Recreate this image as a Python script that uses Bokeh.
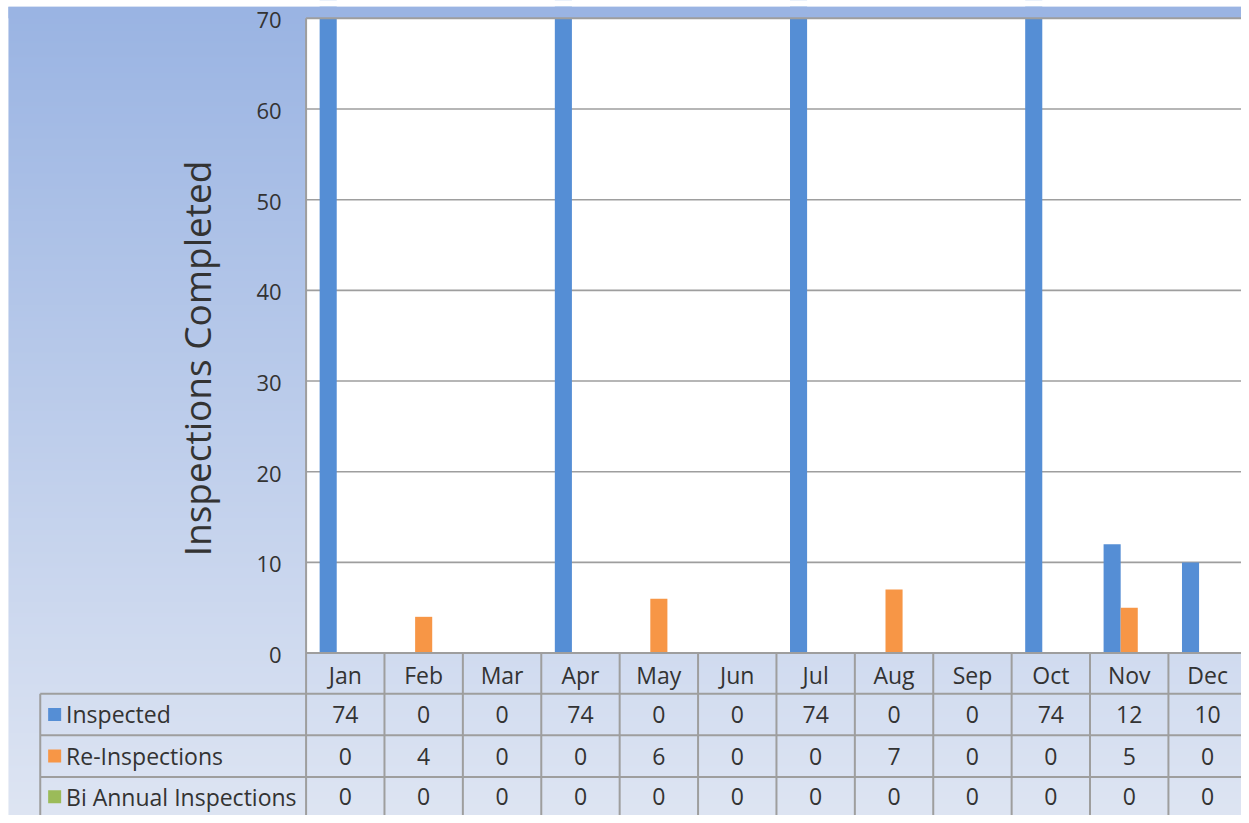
import numpy as np
from bokeh.plotting import figure
from bokeh.models import Range1d, ColumnDataSource
from bokeh.embed import file_html
from bokeh.resources import INLINE
from bokeh.core.properties import value
from bokeh.transform import dodge

# ---------------- data ----------------
months = ["Jan", "Feb", "Mar", "Apr", "May", "Jun", "Jul", "Aug", "Sep", "Oct", "Nov", "Dec"]
inspected = [74, 0, 0, 74, 0, 0, 74, 0, 0, 74, 12, 10]
re_inspections = [0, 4, 0, 0, 6, 0, 0, 7, 0, 0, 5, 0]
bi_annual = [0, 0, 0, 0, 0, 0, 0, 0, 0, 0, 0, 0]
series_names = ["Inspected", "Re-Inspections", "Bi Annual Inspections"]
y_ticks = [0, 10, 20, 30, 40, 50, 60, 70]
y_title = "Inspections Completed"

# ---------------- styles ----------------
colors = ["#558ED5", "#F79646", "#9BBB59"]
grid_color = "#9e9e9e"
text_color = "#333333"
FONT = value("Open Sans")

W, H = 1241, 815          # canvas size
RW, RH = 1249, 823        # layout reference size (mapped onto the canvas)
# layout geometry (layout pixels -> data units)
X0, DX = 347.0, 78.9    # x of first month centre, px per month
Y0, DY = 659.0, 9.157   # y of value 0, px per unit


def dx(px):
    return (px - X0) / DX


def dy(py):
    return (Y0 - py) / DY


x_lo, x_hi = dx(0), dx(RW)
y_lo, y_hi = dy(RH), dy(0)
y_max = y_ticks[-1]

p = figure(width=W, height=H, x_range=Range1d(x_lo, x_hi), y_range=Range1d(y_lo, y_hi),
           output_backend="svg", toolbar_location=None, min_border=0,
           x_axis_location=None, y_axis_location=None)
p.grid.visible = False
p.outline_line_color = None
top_rgb = np.array([154, 180, 227])
bot_rgb = np.array([222, 229, 243])
p.background_fill_color = "white"
p.border_fill_color = "white"

# background gradient (below the thin white strip at top, right of the one at left)
g_top = dy(6)
g_left = dx(8)
n = H
t = np.linspace(0.0, 1.0, n)[:, None]
cols = bot_rgb * (1 - t) + top_rgb * t
img = np.empty((n, 1), dtype=np.uint32)
view = img.view(dtype=np.uint8).reshape((n, 1, 4))
view[:, 0, 0:3] = cols.astype(np.uint8)
view[:, 0, 3] = 255
p.image_rgba(image=[img], x=g_left, y=y_lo, dw=x_hi - g_left, dh=g_top - y_lo)

# plot area
p.quad(left=-0.5, right=x_hi + 1, bottom=0, top=y_max, fill_color="white", line_color=None)
p.segment(x0=[-0.5] * (len(y_ticks) - 2), x1=[x_hi + 1] * (len(y_ticks) - 2),
          y0=y_ticks[1:-1], y1=y_ticks[1:-1], line_color=grid_color, line_width=1.6)

# bars
idx = list(range(len(months)))
src = ColumnDataSource(dict(x=idx, a=inspected, b=re_inspections, c=bi_annual))
bw = 0.218
for off, col, c in zip((-bw, 0.0, bw), ("a", "b", "c"), colors):
    p.vbar(x=dodge("x", off), top=col, bottom=0, width=bw, source=src,
           fill_color=c, line_color=None)

# mask above plot area (bars clipped at axis max)
p.quad(left=g_left, right=x_hi, bottom=y_max, top=g_top,
       fill_color="#9ab4e3", line_color=None)
p.quad(left=x_lo, right=x_hi, bottom=g_top, top=y_hi + 1,
       fill_color="white", line_color=None)

# plot border top/left
p.segment(x0=[-0.5, -0.5], x1=[x_hi + 1, -0.5], y0=[y_max, y_lo], y1=[y_max, y_max],
          line_color=grid_color, line_width=2)

# table lines
row_edges = [dy(700), dy(742), dy(784)]
hx0 = [-0.5] + [dx(40)] * 3
hy = [0] + row_edges
p.segment(x0=hx0, x1=[x_hi + 1] * 4, y0=hy, y1=hy, line_color=grid_color, line_width=2)
vx = [i + 0.5 for i in idx[:-1]]
p.segment(x0=vx, x1=vx, y0=[0] * len(vx), y1=[y_lo] * len(vx), line_color=grid_color, line_width=2)
p.segment(x0=[dx(40)], x1=[dx(40)], y0=[row_edges[0]], y1=[y_lo], line_color=grid_color, line_width=2)

# header (month names)
p.text(x=idx, y=[dy(681)] * len(idx), text=months, text_font=FONT, text_font_size="23px",
       text_color=text_color, text_align="center", text_baseline="middle")

# rows
row_y = [dy(721), dy(763), dy(804)]
for ry, name, vals, c in zip(row_y, series_names, (inspected, re_inspections, bi_annual), colors):
    p.text(x=idx, y=[ry] * len(idx), text=[str(v) for v in vals], text_font=FONT,
           text_font_size="23px", text_color=text_color, text_align="center",
           text_baseline="middle")
    p.scatter(x=[dx(54.5)], y=[ry], marker="square", size=13, fill_color=c, line_color=None)
    p.text(x=[dx(66)], y=[ry], text=[name], text_font=FONT, text_font_size="23px",
           text_color=text_color, text_align="left", text_baseline="middle")

# y tick labels
p.text(x=[dx(283)] * len(y_ticks), y=y_ticks, text=[str(v) for v in y_ticks], text_font=FONT,
       text_font_size="22px", text_color=text_color, text_align="right",
       text_baseline="middle", y_offset=2)

# y title
p.text(x=[dx(197)], y=[dy(361.5)], text=[y_title], angle=np.pi / 2, text_font=FONT,
       text_font_size="37px", text_color=text_color, text_align="center",
       text_baseline="middle")

open("out.html", "w").write(file_html(p, INLINE))
